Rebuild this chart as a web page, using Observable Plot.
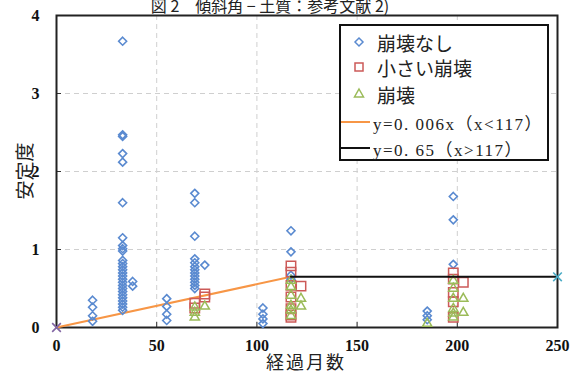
<!DOCTYPE html>
<html><head><meta charset="utf-8">
<script src="https://cdn.jsdelivr.net/npm/d3@7"></script>
<script src="https://cdn.jsdelivr.net/npm/@observablehq/plot@0.6"></script>
<style>
body{margin:0;background:#fff;overflow:hidden}
#wrap{position:relative;width:571px;height:373px;overflow:hidden}
.abs{position:absolute;white-space:nowrap;line-height:1}
#title{left:0;width:540px;text-align:center;top:-7px;font:16px "Noto Sans CJK JP";color:#222}
#ylab{left:23px;top:171px;transform:translate(-50%,-50%) rotate(-90deg);font:19px "Noto Sans CJK JP";color:#222}
#xlab{left:306px;top:361px;transform:translate(-50%,-50%);font:18px "Noto Sans CJK JP";color:#222;letter-spacing:2px}
#legend{left:339px;top:24px;width:206px;height:133px;border:2px solid #111;background:#fff}
.row{position:absolute;left:0;height:26px;display:flex;align-items:center}
.row svg{flex:none}
.lt{font:19px "Noto Sans CJK JP";color:#222;margin-left:6px}
.lf{font:17px "Liberation Serif","Noto Sans CJK JP";color:#222;margin-left:2px;letter-spacing:1.5px}
</style></head>
<body><div id="wrap"></div>
<script>
// --- data ---
const noneX = [18,18,18,18,
  33,33,33,33,33,33,33,33,33,33,33,33,33,33,33,33,33,33,33,33,33,33,33,33,33,33,33,
  38,38, 55,55,55,55,
  69,69,69,69,69,69,69,69,69,69,69,69,69, 74,
  103,103,103,103, 117,117,117,117, 185,185,185, 198,198,198];
const noneY = [0.35,0.26,0.15,0.08,
  3.67,2.47,2.45,2.23,2.12,1.60,1.15,1.05,1.01,0.98,0.86,0.82,0.78,0.74,0.70,0.66,0.62,0.58,0.54,0.50,0.46,0.42,0.38,0.34,0.30,0.26,0.22,
  0.59,0.53, 0.37,0.27,0.17,0.09,
  1.72,1.60,1.17,0.88,0.83,0.78,0.74,0.70,0.66,0.62,0.58,0.54,0.50, 0.80,
  0.25,0.17,0.11,0.05, 1.24,0.97,0.67,0.62, 0.21,0.15,0.10, 1.68,1.38,0.81];
const smallX = [69,69, 74,74, 117,117,117,117,117,117,117, 122, 198,198,198,198,198, 203];
const smallY = [0.31,0.25, 0.43,0.39, 0.79,0.71,0.54,0.39,0.24,0.16,0.13, 0.53, 0.70,0.62,0.45,0.33,0.13, 0.58];
const collX = [69,69,69, 74, 117,117,117,117,117,117, 122,122, 185, 198,198,198,198,198,198, 203,203];
const collY = [0.26,0.19,0.13, 0.27, 0.60,0.52,0.41,0.28,0.22,0.15, 0.37,0.27, 0.05, 0.60,0.50,0.37,0.24,0.18,0.13, 0.37,0.19];
const fitX = [0,117], fitY = [0,0.65];
const constX = [117,250], constY = [0.65,0.65];
const xTicks = [0,50,100,150,200,250];
const yTicks = [0,1,2,3,4];
const xGrid = [50,100,150,200];
const yGrid = [1,2,3];
const legendLabels = ["崩壊なし","小さい崩壊","崩壊","y=0. 006x（x<117）","y=0. 65（x>117）"];
const titleText = "図 2　傾斜角 − 土質：参考文献 2)";
const xLabel = "経過月数", yLabel = "安定度";

const BLUE="#5a8ad0", RED="#cc5a58", GREEN="#9bbb59", ORANGE="#f79646";
const pts = (X,Y)=>X.map((x,i)=>({x, y:Y[i]}));
const fmt = d3.format("d");

const chart = Plot.plot({
  width:571, height:373,
  marginLeft:56, marginRight:14, marginTop:15, marginBottom:46,
  x:{domain:[0,250]}, y:{domain:[0,4]},
  style:{background:"transparent"},
  marks:[
    Plot.ruleX(xGrid,{stroke:"#cfcfcf",strokeDasharray:"5,4"}),
    Plot.ruleY(yGrid,{stroke:"#cfcfcf",strokeDasharray:"5,4"}),
    Plot.axisX({ticks:xTicks,tickSize:0,tickPadding:12,tickFormat:fmt,fontSize:16,fontWeight:"bold",fill:"#111",label:null}),
    Plot.axisX({ticks:xTicks,tickSize:-5,tickFormat:()=>"",stroke:"#333",label:null}),
    Plot.axisY({ticks:yTicks,tickSize:0,tickPadding:17,tickFormat:fmt,fontSize:16,fontWeight:"bold",fill:"#111",label:null}),
    Plot.axisY({ticks:yTicks,tickSize:-5,tickFormat:()=>"",stroke:"#333",label:null}),
    Plot.frame({stroke:"#222",strokeWidth:2}),
    Plot.line(pts(fitX,fitY),{x:"x",y:"y",stroke:ORANGE,strokeWidth:2}),
    Plot.dot(pts(noneX,noneY),{x:"x",y:"y",symbol:"diamond2",r:3.6,stroke:BLUE,strokeWidth:1.6}),
    Plot.dot(pts(smallX,smallY),{x:"x",y:"y",symbol:"square2",r:6,stroke:RED,strokeWidth:1.5}),
    Plot.dot(pts(collX,collY),{x:"x",y:"y",symbol:"triangle2",r:4.4,stroke:GREEN,strokeWidth:1.5}),
    Plot.line(pts(constX,constY),{x:"x",y:"y",stroke:"#111",strokeWidth:2}),
    Plot.dot(pts([fitX[0]],[fitY[0]]),{x:"x",y:"y",symbol:"times",r:4,stroke:"#8064a2",strokeWidth:1.6}),
    Plot.dot(pts([constX[1]],[constY[1]]),{x:"x",y:"y",symbol:"times",r:4,stroke:"#4bacc6",strokeWidth:1.6})
  ]
});
chart.querySelectorAll("text").forEach(t=>{t.style.fontFamily='"Liberation Serif", serif';t.style.fontWeight="bold";});
const wrap = document.getElementById("wrap");
chart.style.position="absolute"; chart.style.left="0"; chart.style.top="0";
wrap.appendChild(chart);

function addDiv(id, text){const d=document.createElement("div");d.id=id;d.className="abs";d.textContent=text;wrap.appendChild(d);return d;}
addDiv("title", titleText);
addDiv("ylab", yLabel);
addDiv("xlab", xLabel);

// legend
const leg = document.createElement("div"); leg.id="legend"; leg.className="abs"; wrap.appendChild(leg);
const sym = [
  `<svg width="30" height="20"><path d="M18,6 L22,10 L18,14 L14,10 Z" fill="none" stroke="${BLUE}" stroke-width="1.5"/></svg>`,
  `<svg width="30" height="20"><rect x="14" y="6" width="8" height="8" fill="none" stroke="${RED}" stroke-width="1.5"/></svg>`,
  `<svg width="30" height="20"><path d="M18,5 L22.5,13 L13.5,13 Z" fill="none" stroke="${GREEN}" stroke-width="1.5"/></svg>`,
  `<svg width="30" height="20"><line x1="0" y1="10" x2="29" y2="10" stroke="${ORANGE}" stroke-width="2"/></svg>`,
  `<svg width="30" height="20"><line x1="0" y1="10" x2="29" y2="10" stroke="#111" stroke-width="2"/></svg>`
];
const rowY=[3,28,55,83,109];
legendLabels.forEach((t,i)=>{
  const r=document.createElement("div"); r.className="row"; r.style.top=rowY[i]+"px";
  r.innerHTML=sym[i]+`<span class="${i<3?"lt":"lf"}"></span>`;
  r.querySelector("span").textContent=t;
  leg.appendChild(r);
});
</script></body></html>
